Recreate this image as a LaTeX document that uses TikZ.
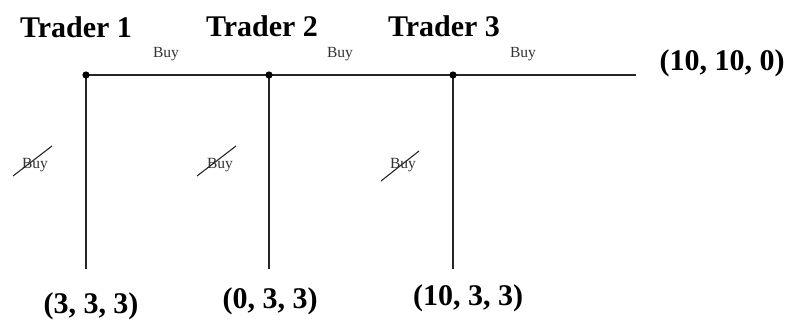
\documentclass[tikz,border=0pt]{standalone}
\usepackage{fontspec}
\setmainfont{Liberation Serif}
\begin{document}
\begin{tikzpicture}[x=1pt,y=-1pt,
  big/.style={font=\fontsize{30}{31}\selectfont\bfseries, anchor=base, inner sep=0pt, text=black},
  small/.style={font=\fontsize{15.5}{16}\selectfont, anchor=base, inner sep=0pt, text=black!80},
  edge/.style={line width=1.3pt, black!85},
  strike/.style={line width=1.1pt, black!85}]
\useasboundingbox (0,0) rectangle (788,322);
% nodes on the main line
\coordinate (n1) at (86,75);
\coordinate (n2) at (269,75);
\coordinate (n3) at (453,75);
\coordinate (e0) at (636,75);
\coordinate (b1) at (86,269);
\coordinate (b2) at (269,269);
\coordinate (b3) at (453,269);
\draw[edge] (n1) -- (n2) -- (n3) -- (e0);
\draw[edge] (n1) -- (b1);
\draw[edge] (n2) -- (b2);
\draw[edge] (n3) -- (b3);
\fill (n1) circle (3.6);
\fill (n2) circle (3.6);
\fill (n3) circle (3.6);
% trader labels
\node[big] (t1) at (76,37) {Trader 1};
\node[big] (t2) at (262,36) {Trader 2};
\node[big] (t3) at (444,36) {Trader 3};
% buy labels
\node[small] (y1) at (166,57) {Buy};
\node[small] (y2) at (340,57) {Buy};
\node[small] (y3) at (523,57) {Buy};
% struck buy labels
\node[small] (s1) at (35,168) {Buy};
\node[small] (s2) at (220,168) {Buy};
\node[small] (s3) at (403,168) {Buy};
\draw[strike] (13,176) -- (52,146);
\draw[strike] (197,176) -- (236,146);
\draw[strike] (381,181) -- (419,151);
% payoffs
\node[big] (p0) at (722,70) {(10, 10, 0)};
\node[big] (p1) at (91,313) {(3, 3, 3)};
\node[big] (p2) at (270,308) {(0, 3, 3)};
\node[big] (p3) at (468,305) {(10, 3, 3)};
\end{tikzpicture}
\end{document}
